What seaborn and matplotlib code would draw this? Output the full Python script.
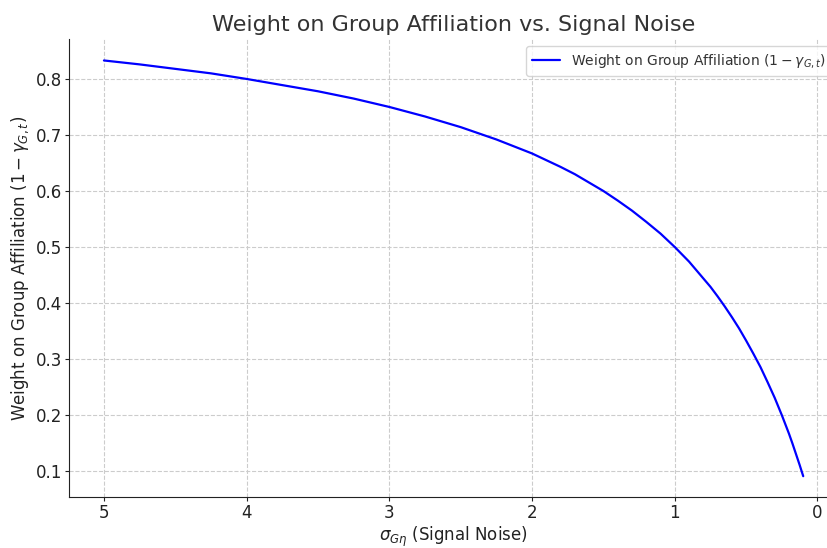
import numpy as np
import pandas as pd
import seaborn as sns
import matplotlib.pyplot as plt

# values
sigma = [5.0, 4.75, 4.5, 4.25, 4.0, 3.75, 3.5, 3.25, 3.0, 2.75, 2.5, 2.25, 2.0,
         1.9, 1.8, 1.7, 1.6, 1.5, 1.4, 1.3, 1.2, 1.1, 1.0, 0.95, 0.9, 0.85,
         0.8, 0.75, 0.7, 0.65, 0.6, 0.55, 0.5, 0.45, 0.4, 0.35, 0.3, 0.25,
         0.2, 0.175, 0.15, 0.125, 0.1]
weight = [0.833, 0.826, 0.818, 0.810, 0.800, 0.789, 0.778, 0.765, 0.750, 0.733,
          0.714, 0.692, 0.667, 0.655, 0.643, 0.630, 0.615, 0.600, 0.583, 0.565,
          0.545, 0.524, 0.500, 0.487, 0.474, 0.459, 0.444, 0.429, 0.412, 0.394,
          0.375, 0.355, 0.333, 0.310, 0.286, 0.259, 0.231, 0.200, 0.167, 0.149,
          0.130, 0.111, 0.091]

df = pd.DataFrame({'sigma': sigma, 'weight': weight})

sns.set_style("ticks", {'axes.grid': True, 'grid.linestyle': '--',
                        'grid.color': '#cccccc'})
plt.rcParams['font.family'] = ['DejaVu Sans']

fig = plt.figure(figsize=(8.28, 5.48), dpi=100)
ax = fig.add_axes([0.0833, 0.093, 0.929, 0.835])

sns.lineplot(data=df, x='sigma', y='weight', color='blue', linewidth=1.6,
             label=r'Weight on Group Affiliation $(1 - \gamma_{G,t})$', ax=ax)

ax.set_xlim(5.245, -0.145)
ax.set_ylim(0.0538, 0.8705)
ax.set_xticks([5, 4, 3, 2, 1, 0])
ax.set_yticks([0.1, 0.2, 0.3, 0.4, 0.5, 0.6, 0.7, 0.8])
ax.grid(True, linestyle='--', color='#cccccc', linewidth=0.8)
ax.tick_params(labelsize=12, colors='#222222', length=3, pad=2)
sns.despine(ax=ax)
for s in ['left', 'bottom']:
    ax.spines[s].set_color('#222222')

ax.set_title('Weight on Group Affiliation vs. Signal Noise', fontsize=16,
             color='#333333')
ax.set_xlabel(r'$\sigma_{G\eta}$ (Signal Noise)', fontsize=12, color='#222222',
              labelpad=2)
ax.set_ylabel(r'Weight on Group Affiliation $(1 - \gamma_{G,t})$', fontsize=12,
              color='#222222', labelpad=3)
leg = ax.legend(loc='upper right', fontsize=10, frameon=True)
for t in leg.get_texts():
    t.set_color('#333333')

fig.savefig('out.png', dpi=100)
